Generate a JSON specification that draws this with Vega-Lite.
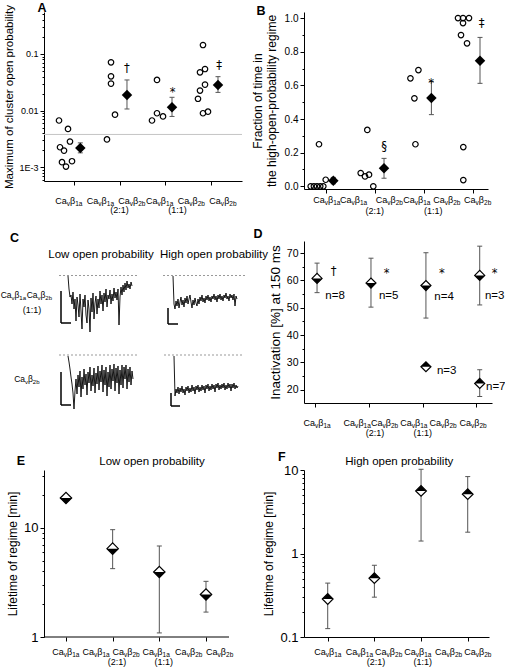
{
"$schema": "https://vega.github.io/schema/vega-lite/v6.json",
"padding": {"left": 0, "top": 2, "right": 0, "bottom": 0},
"autosize": {"type": "pad"},
"config": {
  "font": "Liberation Sans",
  "view": {"stroke": null},
  "axis": {"grid": false, "domainColor": "#000", "tickColor": "#000", "labelColor": "#000", "titleColor": "#000", "labelFont": "Liberation Sans", "titleFont": "Liberation Sans", "titleFontWeight": "normal", "labelFontSize": 10, "titleFontSize": 11.5, "labelPadding": 2, "titlePadding": 4, "labelOverlap": false, "labelFlush": false, "labelBound": false},
  "text": {"color": "#000", "font": "Liberation Sans"}
},
"datasets": {
  "aPts": [{"x":0.68,"y":0.0067},{"x":0.876,"y":0.00475},{"x":0.702,"y":0.00226},{"x":0.789,"y":0.00197},{"x":0.919,"y":0.00285},{"x":0.745,"y":0.00123},{"x":0.832,"y":0.00103},{"x":0.963,"y":0.00128},{"x":1.813,"y":0.0713},{"x":1.813,"y":0.0404},{"x":1.813,"y":0.030},{"x":1.90,"y":0.0085},{"x":1.725,"y":0.0031},{"x":2.815,"y":0.0348},{"x":2.706,"y":0.0067},{"x":2.815,"y":0.009},{"x":2.946,"y":0.0079},{"x":3.817,"y":0.144},{"x":3.752,"y":0.0475},{"x":3.861,"y":0.0543},{"x":3.861,"y":0.0288},{"x":3.752,"y":0.0226},{"x":3.708,"y":0.0162},{"x":3.817,"y":0.009},{"x":3.926,"y":0.0096}],
  "aMean": [{"x":1.144,"y":0.0022,"lo":0.0018,"hi":0.0027},{"x":2.161,"y":0.0189,"lo":0.0107,"hi":0.0348},{"x":3.142,"y":0.0115,"lo":0.0079,"hi":0.0172},{"x":4.144,"y":0.0284,"lo":0.021,"hi":0.0398}],
  "aAnn": [{"x":2.16,"y":0.054,"t":"†"},{"x":3.157,"y":0.0205,"t":"*"},{"x":4.166,"y":0.062,"t":"‡"}],
  "aLab": [{"x":0.891,"y":0.000573,"s":"1a"},{"x":1.58,"y":0.000573,"s":"1a"},{"x":2.264,"y":0.000573,"s":"2b"},{"x":2.87,"y":0.000573,"s":"1a"},{"x":3.56,"y":0.000573,"s":"2b"},{"x":4.25,"y":0.000573,"s":"2b"}],
  "aRat": [{"x":2.0,"y":0.000573,"t":"(2:1)"},{"x":3.26,"y":0.000573,"t":"(1:1)"}],
  "bPts": [{"x":0.694,"y":0},{"x":0.759,"y":0},{"x":0.822,"y":0},{"x":0.888,"y":0},{"x":0.951,"y":0},{"x":0.863,"y":0.25},{"x":1.0,"y":0.039},{"x":1.849,"y":0.335},{"x":1.714,"y":0.079},{"x":1.802,"y":0.059},{"x":1.884,"y":0.069},{"x":1.971,"y":0},{"x":2.729,"y":0.642},{"x":2.892,"y":0.691},{"x":2.81,"y":0.523},{"x":2.831,"y":0.25},{"x":3.7,"y":1.0},{"x":3.802,"y":1.0},{"x":3.924,"y":1.0},{"x":3.802,"y":0.97},{"x":3.761,"y":0.899},{"x":3.884,"y":0.85},{"x":3.808,"y":0.233},{"x":3.808,"y":0.037}],
  "bMean": [{"x":1.155,"y":0.033,"lo":0.015,"hi":0.053},{"x":2.19,"y":0.107,"lo":0.048,"hi":0.166},{"x":3.157,"y":0.525,"lo":0.426,"hi":0.624},{"x":4.149,"y":0.746,"lo":0.612,"hi":0.885}],
  "bAnn": [{"x":2.19,"y":0.232,"t":"§"},{"x":3.151,"y":0.608,"t":"*"},{"x":4.184,"y":0.964,"t":"‡"}],
  "bLab": [{"x":1.02,"y":-0.016,"s":"1a"},{"x":1.565,"y":-0.016,"s":"1a"},{"x":2.296,"y":-0.016,"s":"2b"},{"x":2.857,"y":-0.016,"s":"1a"},{"x":3.469,"y":-0.016,"s":"2b"},{"x":4.098,"y":-0.016,"s":"2b"}],
  "bRat": [{"x":2.002,"y":-0.016,"t":"(2:1)"},{"x":3.193,"y":-0.016,"t":"(1:1)"}],
  "dPts": [{"x":1.032,"y":60.7,"lo":55.5,"hi":66.3,"half":"bottom"},{"x":2.037,"y":59.0,"lo":50.2,"hi":68.1,"half":"bottom"},{"x":3.061,"y":58.1,"lo":46.2,"hi":70.1,"half":"bottom"},{"x":4.063,"y":61.8,"lo":51.0,"hi":72.5,"half":"bottom"},{"x":3.061,"y":28.4,"lo":28.4,"hi":28.4,"half":"top"},{"x":4.063,"y":22.3,"lo":17.5,"hi":27.3,"half":"top"}],
  "dN": [{"x":1.186,"y":54.2,"t":"n=8"},{"x":2.186,"y":54.2,"t":"n=5"},{"x":3.218,"y":53.8,"t":"n=4"},{"x":4.16,"y":54.2,"t":"n=3"},{"x":3.266,"y":27.0,"t":"n=3"},{"x":4.18,"y":20.9,"t":"n=7"}],
  "dAnn": [{"x":1.343,"y":63.2,"t":"†"},{"x":2.33,"y":62.3,"t":"*"},{"x":3.36,"y":62.3,"t":"*"},{"x":4.34,"y":62.3,"t":"*"}],
  "dLab": [{"x":1.03,"y":15.13,"s":"1a"},{"x":1.778,"y":15.13,"s":"1a"},{"x":2.289,"y":15.13,"s":"2b"},{"x":2.833,"y":15.13,"s":"1a"},{"x":3.379,"y":15.13,"s":"2b"},{"x":3.938,"y":15.13,"s":"2b"}],
  "dRat": [{"x":2.112,"y":15.13,"t":"(2:1)"},{"x":3.0,"y":15.13,"t":"(1:1)"}],
  "ePts": [{"x":1,"y":18.7,"lo":18.7,"hi":18.7},{"x":2,"y":6.43,"lo":4.22,"hi":9.59},{"x":3,"y":3.93,"lo":1.09,"hi":6.8},{"x":4,"y":2.45,"lo":1.69,"hi":3.23}],
  "eLab": [{"x":0.993,"y":1,"s":"1a"},{"x":1.643,"y":1,"s":"1a"},{"x":2.286,"y":1,"s":"2b"},{"x":2.929,"y":1,"s":"1a"},{"x":3.628,"y":1,"s":"2b"},{"x":4.29,"y":1,"s":"2b"}],
  "eRat": [{"x":2.093,"y":1,"t":"(2:1)"},{"x":3.093,"y":1,"t":"(1:1)"}],
  "fPts": [{"x":1,"y":0.285,"lo":0.126,"hi":0.442},{"x":2,"y":0.507,"lo":0.30,"hi":0.723},{"x":3,"y":5.62,"lo":1.41,"hi":10.2},{"x":4,"y":5.14,"lo":1.8,"hi":8.34}],
  "fLab": [{"x":1.0,"y":0.1,"s":"1a"},{"x":1.677,"y":0.1,"s":"1a"},{"x":2.303,"y":0.1,"s":"2b"},{"x":2.928,"y":0.1,"s":"1a"},{"x":3.588,"y":0.1,"s":"2b"},{"x":4.214,"y":0.1,"s":"2b"}],
  "fRat": [{"x":2.035,"y":0.1,"t":"(2:1)"},{"x":3.036,"y":0.1,"t":"(1:1)"}],
  "cLab": [{"x":11.5,"v":108,"s":"1a"},{"x":37.5,"v":108,"s":"2b"},{"x":25,"v":24,"s":"2b"}],
  "cTr": [
{"k":"TL","x":66,"v":127},{"k":"TL","x":67,"v":114},{"k":"TL","x":68,"v":106},{"k":"TL","x":69,"v":108},{"k":"TL","x":70,"v":99},{"k":"TL","x":71,"v":111},{"k":"TL","x":72,"v":94},{"k":"TL","x":73,"v":104},{"k":"TL","x":74,"v":82},{"k":"TL","x":75,"v":106},{"k":"TL","x":76,"v":98},{"k":"TL","x":77,"v":86},{"k":"TL","x":78,"v":109},{"k":"TL","x":79,"v":92},{"k":"TL","x":80,"v":74},{"k":"TL","x":81,"v":104},{"k":"TL","x":82,"v":96},{"k":"TL","x":83,"v":108},{"k":"TL","x":84,"v":88},{"k":"TL","x":85,"v":80},{"k":"TL","x":86,"v":103},{"k":"TL","x":87,"v":94},{"k":"TL","x":88,"v":71},{"k":"TL","x":89,"v":105},{"k":"TL","x":90,"v":91},{"k":"TL","x":91,"v":110},{"k":"TL","x":92,"v":84},{"k":"TL","x":93,"v":100},{"k":"TL","x":94,"v":107},{"k":"TL","x":95,"v":89},{"k":"TL","x":96,"v":104},{"k":"TL","x":97,"v":95},{"k":"TL","x":98,"v":112},{"k":"TL","x":99,"v":99},{"k":"TL","x":100,"v":108},{"k":"TL","x":101,"v":92},{"k":"TL","x":102,"v":110},{"k":"TL","x":103,"v":101},{"k":"TL","x":104,"v":114},{"k":"TL","x":105,"v":96},{"k":"TL","x":106,"v":108},{"k":"TL","x":107,"v":104},{"k":"TL","x":108,"v":113},{"k":"TL","x":109,"v":99},{"k":"TL","x":110,"v":109},{"k":"TL","x":111,"v":102},{"k":"TL","x":112,"v":115},{"k":"TL","x":113,"v":105},{"k":"TL","x":114,"v":111},{"k":"TL","x":115,"v":103},{"k":"TL","x":116,"v":114},{"k":"TL","x":117,"v":78},{"k":"TL","x":118,"v":106},{"k":"TL","x":119,"v":116},{"k":"TL","x":120,"v":108},{"k":"TL","x":121,"v":118},{"k":"TL","x":122,"v":111},{"k":"TL","x":123,"v":120},{"k":"TL","x":124,"v":113},{"k":"TL","x":125,"v":122},{"k":"TL","x":126,"v":115},{"k":"TL","x":127,"v":119},{"k":"TL","x":128,"v":114},{"k":"TL","x":129,"v":121},{"k":"TL","x":130,"v":117},
{"k":"TR","x":171,"v":127},{"k":"TR","x":172,"v":99},{"k":"TR","x":173,"v":94},{"k":"TR","x":174,"v":102},{"k":"TR","x":175,"v":97},{"k":"TR","x":176,"v":104},{"k":"TR","x":177,"v":95},{"k":"TR","x":178,"v":101},{"k":"TR","x":179,"v":106},{"k":"TR","x":180,"v":98},{"k":"TR","x":181,"v":103},{"k":"TR","x":182,"v":96},{"k":"TR","x":183,"v":105},{"k":"TR","x":184,"v":100},{"k":"TR","x":185,"v":107},{"k":"TR","x":186,"v":99},{"k":"TR","x":187,"v":104},{"k":"TR","x":188,"v":108},{"k":"TR","x":189,"v":101},{"k":"TR","x":190,"v":95},{"k":"TR","x":191,"v":103},{"k":"TR","x":192,"v":98},{"k":"TR","x":193,"v":105},{"k":"TR","x":194,"v":100},{"k":"TR","x":195,"v":97},{"k":"TR","x":196,"v":104},{"k":"TR","x":197,"v":99},{"k":"TR","x":198,"v":106},{"k":"TR","x":199,"v":102},{"k":"TR","x":200,"v":108},{"k":"TR","x":201,"v":101},{"k":"TR","x":202,"v":105},{"k":"TR","x":203,"v":100},{"k":"TR","x":204,"v":107},{"k":"TR","x":205,"v":103},{"k":"TR","x":206,"v":108},{"k":"TR","x":207,"v":102},{"k":"TR","x":208,"v":106},{"k":"TR","x":209,"v":101},{"k":"TR","x":210,"v":107},{"k":"TR","x":211,"v":104},{"k":"TR","x":212,"v":109},{"k":"TR","x":213,"v":103},{"k":"TR","x":214,"v":107},{"k":"TR","x":215,"v":101},{"k":"TR","x":216,"v":108},{"k":"TR","x":217,"v":104},{"k":"TR","x":218,"v":109},{"k":"TR","x":219,"v":103},{"k":"TR","x":220,"v":107},{"k":"TR","x":221,"v":102},{"k":"TR","x":222,"v":108},{"k":"TR","x":223,"v":105},{"k":"TR","x":224,"v":110},{"k":"TR","x":225,"v":104},{"k":"TR","x":226,"v":107},{"k":"TR","x":227,"v":102},{"k":"TR","x":228,"v":109},{"k":"TR","x":229,"v":105},{"k":"TR","x":230,"v":108},{"k":"TR","x":231,"v":103},{"k":"TR","x":232,"v":109},{"k":"TR","x":233,"v":97},{"k":"TR","x":234,"v":107},{"k":"TR","x":235,"v":104},
{"k":"BL","x":66,"v":47},{"k":"BL","x":67,"v":41},{"k":"BL","x":68,"v":34},{"k":"BL","x":69,"v":26},{"k":"BL","x":70,"v":19},{"k":"BL","x":71,"v":10},{"k":"BL","x":72,"v":-6},{"k":"BL","x":73,"v":12},{"k":"BL","x":74,"v":24},{"k":"BL","x":75,"v":9},{"k":"BL","x":76,"v":28},{"k":"BL","x":77,"v":16},{"k":"BL","x":78,"v":32},{"k":"BL","x":79,"v":6},{"k":"BL","x":80,"v":26},{"k":"BL","x":81,"v":14},{"k":"BL","x":82,"v":34},{"k":"BL","x":83,"v":18},{"k":"BL","x":84,"v":29},{"k":"BL","x":85,"v":8},{"k":"BL","x":86,"v":31},{"k":"BL","x":87,"v":20},{"k":"BL","x":88,"v":36},{"k":"BL","x":89,"v":12},{"k":"BL","x":90,"v":28},{"k":"BL","x":91,"v":17},{"k":"BL","x":92,"v":35},{"k":"BL","x":93,"v":10},{"k":"BL","x":94,"v":30},{"k":"BL","x":95,"v":19},{"k":"BL","x":96,"v":37},{"k":"BL","x":97,"v":13},{"k":"BL","x":98,"v":32},{"k":"BL","x":99,"v":21},{"k":"BL","x":100,"v":38},{"k":"BL","x":101,"v":11},{"k":"BL","x":102,"v":33},{"k":"BL","x":103,"v":18},{"k":"BL","x":104,"v":36},{"k":"BL","x":105,"v":7},{"k":"BL","x":106,"v":31},{"k":"BL","x":107,"v":16},{"k":"BL","x":108,"v":38},{"k":"BL","x":109,"v":14},{"k":"BL","x":110,"v":34},{"k":"BL","x":111,"v":22},{"k":"BL","x":112,"v":39},{"k":"BL","x":113,"v":12},{"k":"BL","x":114,"v":35},{"k":"BL","x":115,"v":20},{"k":"BL","x":116,"v":37},{"k":"BL","x":117,"v":9},{"k":"BL","x":118,"v":33},{"k":"BL","x":119,"v":18},{"k":"BL","x":120,"v":38},{"k":"BL","x":121,"v":15},{"k":"BL","x":122,"v":36},{"k":"BL","x":123,"v":24},{"k":"BL","x":124,"v":38},{"k":"BL","x":125,"v":14},{"k":"BL","x":126,"v":34},{"k":"BL","x":127,"v":21},{"k":"BL","x":128,"v":36},{"k":"BL","x":129,"v":18},{"k":"BL","x":130,"v":32},{"k":"BL","x":131,"v":24},
{"k":"BR","x":172,"v":47},{"k":"BR","x":173,"v":7},{"k":"BR","x":174,"v":14},{"k":"BR","x":175,"v":10},{"k":"BR","x":176,"v":16},{"k":"BR","x":177,"v":9},{"k":"BR","x":178,"v":15},{"k":"BR","x":179,"v":11},{"k":"BR","x":180,"v":17},{"k":"BR","x":181,"v":10},{"k":"BR","x":182,"v":14},{"k":"BR","x":183,"v":8},{"k":"BR","x":184,"v":16},{"k":"BR","x":185,"v":12},{"k":"BR","x":186,"v":17},{"k":"BR","x":187,"v":10},{"k":"BR","x":188,"v":15},{"k":"BR","x":189,"v":11},{"k":"BR","x":190,"v":18},{"k":"BR","x":191,"v":12},{"k":"BR","x":192,"v":16},{"k":"BR","x":193,"v":9},{"k":"BR","x":194,"v":17},{"k":"BR","x":195,"v":13},{"k":"BR","x":196,"v":18},{"k":"BR","x":197,"v":11},{"k":"BR","x":198,"v":16},{"k":"BR","x":199,"v":12},{"k":"BR","x":200,"v":18},{"k":"BR","x":201,"v":13},{"k":"BR","x":202,"v":17},{"k":"BR","x":203,"v":10},{"k":"BR","x":204,"v":18},{"k":"BR","x":205,"v":14},{"k":"BR","x":206,"v":19},{"k":"BR","x":207,"v":12},{"k":"BR","x":208,"v":17},{"k":"BR","x":209,"v":13},{"k":"BR","x":210,"v":19},{"k":"BR","x":211,"v":14},{"k":"BR","x":212,"v":18},{"k":"BR","x":213,"v":11},{"k":"BR","x":214,"v":19},{"k":"BR","x":215,"v":15},{"k":"BR","x":216,"v":20},{"k":"BR","x":217,"v":13},{"k":"BR","x":218,"v":18},{"k":"BR","x":219,"v":14},{"k":"BR","x":220,"v":19},{"k":"BR","x":221,"v":15},{"k":"BR","x":222,"v":20},{"k":"BR","x":223,"v":13},{"k":"BR","x":224,"v":18},{"k":"BR","x":225,"v":14},{"k":"BR","x":226,"v":20},{"k":"BR","x":227,"v":15},{"k":"BR","x":228,"v":19},{"k":"BR","x":229,"v":12},{"k":"BR","x":230,"v":19},{"k":"BR","x":231,"v":15},{"k":"BR","x":232,"v":20},{"k":"BR","x":233,"v":14},{"k":"BR","x":234,"v":18},{"k":"BR","x":235,"v":15},{"k":"BR","x":236,"v":17}
  ]
},
"bounds": "flush",
"align": "none",
"columns": 2,
"spacing": {"row": 52, "column": 59},
"concat": [
   {"width": 198, "height": 169,
    "encoding": {
      "x": {"field": "x", "type": "quantitative", "scale": {"domain": [0.353, 4.667]}, "axis": {"values": [1,2,3,4], "labels": false, "title": null, "tickSize": 4}},
      "y": {"field": "y", "type": "quantitative", "scale": {"type": "log", "domain": [0.000573, 0.551]}, "axis": {"title": "Maximum of cluster open probability", "labelFontSize": 9, "values": [0.0006,0.0007,0.0008,0.0009,0.001,0.002,0.003,0.004,0.005,0.006,0.007,0.008,0.009,0.01,0.02,0.03,0.04,0.05,0.06,0.07,0.08,0.09,0.1,0.2,0.3,0.4,0.5], "labelExpr": "datum.value==0.001 ? '1E-3' : datum.value==0.01 ? '0.01' : datum.value==0.1 ? '0.1' : ''", "tickSize": {"condition": {"test": "datum.value==0.001||datum.value==0.01||datum.value==0.1", "value": 4}, "value": 2}}}
    },
    "layer": [
     {"data": {"values": [{"x": 0.353, "x2": 4.667, "y": 0.0038}]}, "mark": {"type": "rule", "color": "#c4c4c4", "strokeWidth": 1}, "encoding": {"x2": {"field": "x2"}}},
     {"data": {"name": "aPts"}, "mark": {"type": "point", "shape": "circle", "filled": false, "color": "#000", "strokeWidth": 1.2, "size": 30, "opacity": 1}},
     {"data": {"name": "aMean"}, "mark": {"type": "rule", "color": "#555"}, "encoding": {"y": {"field": "lo", "type": "quantitative"}, "y2": {"field": "hi"}}},
     {"data": {"name": "aMean"}, "mark": {"type": "tick", "orient": "horizontal", "size": 5, "thickness": 1, "color": "#555", "opacity": 1}, "encoding": {"y": {"field": "hi", "type": "quantitative"}}},
     {"data": {"name": "aMean"}, "mark": {"type": "tick", "orient": "horizontal", "size": 5, "thickness": 1, "color": "#555", "opacity": 1}, "encoding": {"y": {"field": "lo", "type": "quantitative"}}},
     {"data": {"name": "aMean"}, "mark": {"type": "point", "shape": "diamond", "filled": true, "color": "#000", "size": 110, "opacity": 1}},
     {"data": {"name": "aAnn"}, "mark": {"type": "text", "font": "DejaVu Sans", "fontSize": 11.5, "baseline": "middle", "align": "center", "fill": "#000"}, "encoding": {"text": {"field": "t"}}},
     {"data": {"values": [{"x": 0.309, "y": 0.648, "t": "A"}]}, "mark": {"type": "text", "fontSize": 12.5, "fontWeight": "bold", "baseline": "middle", "align": "center"}, "encoding": {"text": {"field": "t"}}},
     {"data": {"name": "aLab"}, "mark": {"type": "text", "text": "Ca", "align": "right", "baseline": "middle", "fontSize": 9, "dx": -2, "dy": 19.5}},
     {"data": {"name": "aLab"}, "mark": {"type": "text", "text": "v", "align": "left", "baseline": "middle", "fontSize": 6.5, "dx": -2, "dy": 22.5}},
     {"data": {"name": "aLab"}, "mark": {"type": "text", "text": "β", "align": "left", "baseline": "middle", "fontSize": 9, "dx": 1.3, "dy": 19.5}},
     {"data": {"name": "aLab"}, "mark": {"type": "text", "align": "left", "baseline": "middle", "fontSize": 6.5, "dx": 6.5, "dy": 22.5}, "encoding": {"text": {"field": "s"}}},
     {"data": {"name": "aRat"}, "mark": {"type": "text", "align": "center", "baseline": "middle", "fontSize": 9, "dy": 29}, "encoding": {"text": {"field": "t"}}}
    ]
   },
   {"width": 184, "height": 177,
    "encoding": {
      "x": {"field": "x", "type": "quantitative", "scale": {"domain": [0.557, 4.312]}, "axis": {"values": [1,2,3,4], "labels": false, "title": null, "tickSize": 4}},
      "y": {"field": "y", "type": "quantitative", "scale": {"domain": [-0.016, 1.036]}, "axis": {"title": ["Fraction of  time in", "the high-open-probability regime"], "titleFontSize": 12, "titleLineHeight": 14, "titlePadding": 6, "values": [0,0.1,0.2,0.3,0.4,0.5,0.6,0.7,0.8,0.9,1.0], "labelExpr": "round(datum.value*10)%2==0 ? format(datum.value,'.1f') : ''", "tickSize": {"condition": {"test": "round(datum.value*10)%2==0", "value": 4}, "value": 2}}}
    },
    "layer": [
     {"data": {"name": "bPts"}, "mark": {"type": "point", "shape": "circle", "filled": false, "color": "#000", "strokeWidth": 1.2, "size": 30, "opacity": 1}},
     {"data": {"name": "bMean"}, "mark": {"type": "rule", "color": "#555"}, "encoding": {"y": {"field": "lo", "type": "quantitative"}, "y2": {"field": "hi"}}},
     {"data": {"name": "bMean"}, "mark": {"type": "tick", "orient": "horizontal", "size": 5, "thickness": 1, "color": "#555", "opacity": 1}, "encoding": {"y": {"field": "hi", "type": "quantitative"}}},
     {"data": {"name": "bMean"}, "mark": {"type": "tick", "orient": "horizontal", "size": 5, "thickness": 1, "color": "#555", "opacity": 1}, "encoding": {"y": {"field": "lo", "type": "quantitative"}}},
     {"data": {"name": "bMean"}, "mark": {"type": "point", "shape": "diamond", "filled": true, "color": "#000", "size": 110, "opacity": 1}},
     {"data": {"name": "bAnn"}, "mark": {"type": "text", "font": "DejaVu Sans", "fontSize": 11.5, "baseline": "middle", "align": "center", "fill": "#000"}, "encoding": {"text": {"field": "t"}}},
     {"data": {"values": [{"x": -0.32, "y": 1.039, "t": "B"}]}, "mark": {"type": "text", "fontSize": 12.5, "fontWeight": "bold", "baseline": "middle", "align": "center"}, "encoding": {"text": {"field": "t"}}},
     {"data": {"name": "bLab"}, "mark": {"type": "text", "text": "Ca", "align": "right", "baseline": "middle", "fontSize": 9, "dx": -2, "dy": 11}},
     {"data": {"name": "bLab"}, "mark": {"type": "text", "text": "v", "align": "left", "baseline": "middle", "fontSize": 6.5, "dx": -2, "dy": 14}},
     {"data": {"name": "bLab"}, "mark": {"type": "text", "text": "β", "align": "left", "baseline": "middle", "fontSize": 9, "dx": 1.3, "dy": 11}},
     {"data": {"name": "bLab"}, "mark": {"type": "text", "align": "left", "baseline": "middle", "fontSize": 6.5, "dx": 6.5, "dy": 14}, "encoding": {"text": {"field": "s"}}},
     {"data": {"name": "bRat"}, "mark": {"type": "text", "align": "center", "baseline": "middle", "fontSize": 9, "dy": 22}, "encoding": {"text": {"field": "t"}}}
    ]
   },
   {"width": 201, "height": 177,
    "encoding": {
      "x": {"field": "x", "type": "quantitative", "scale": {"domain": [42, 243]}, "axis": null},
      "y": {"field": "v", "type": "quantitative", "scale": {"domain": [-15, 162]}, "axis": null}
    },
    "layer": [
     {"data": {"values": [{"x": 57, "x2": 136, "v": 127.5}, {"x": 161, "x2": 244, "v": 127.5}, {"x": 57, "x2": 136, "v": 48}, {"x": 162, "x2": 242, "v": 48}]}, "mark": {"type": "rule", "color": "#999", "strokeDash": [2, 2], "strokeWidth": 1}, "encoding": {"x2": {"field": "x2"}}},
     {"data": {"name": "cTr"}, "mark": {"type": "line", "color": "#000", "strokeWidth": 0.9}, "encoding": {"detail": {"field": "k", "type": "nominal"}}},
     {"data": {"values": [{"x": 59, "x2": 59, "v": 112, "v2": 80}, {"x": 59, "x2": 69, "v": 80, "v2": 80}, {"x": 166, "x2": 166, "v": 95, "v2": 79}, {"x": 166, "x2": 176, "v": 79, "v2": 79}, {"x": 59, "x2": 59, "v": 31, "v2": -2}, {"x": 59, "x2": 69, "v": -2, "v2": -2}, {"x": 169, "x2": 169, "v": 10, "v2": -3}, {"x": 169, "x2": 178, "v": -3, "v2": -3}]}, "mark": {"type": "rule", "color": "#000", "strokeWidth": 1.5}, "encoding": {"x2": {"field": "x2"}, "y2": {"field": "v2"}}},
     {"data": {"values": [{"x": 99, "v": 148, "t": "Low open probability"}, {"x": 212, "v": 148, "t": "High open probability"}]}, "mark": {"type": "text", "fontSize": 11.5, "baseline": "middle", "align": "center"}, "encoding": {"text": {"field": "t"}}},
     {"data": {"values": [{"x": 12.5, "v": 165, "t": "C"}]}, "mark": {"type": "text", "fontSize": 12.5, "fontWeight": "bold", "baseline": "middle", "align": "center"}, "encoding": {"text": {"field": "t"}}},
     {"data": {"name": "cLab"}, "mark": {"type": "text", "text": "Ca", "align": "right", "baseline": "middle", "fontSize": 8.5, "dx": -2}},
     {"data": {"name": "cLab"}, "mark": {"type": "text", "text": "v", "align": "left", "baseline": "middle", "fontSize": 6, "dx": -2, "dy": 3}},
     {"data": {"name": "cLab"}, "mark": {"type": "text", "text": "β", "align": "left", "baseline": "middle", "fontSize": 8.5, "dx": 1, "dy": 0}},
     {"data": {"name": "cLab"}, "mark": {"type": "text", "align": "left", "baseline": "middle", "fontSize": 6, "dx": 5.8, "dy": 3}, "encoding": {"text": {"field": "s"}}},
     {"data": {"values": [{"x": 30, "v": 93, "t": "(1:1)"}]}, "mark": {"type": "text", "align": "center", "baseline": "middle", "fontSize": 9}, "encoding": {"text": {"field": "t"}}}
    ]
   },
   {"width": 188, "height": 162,
    "encoding": {
      "x": {"field": "x", "type": "quantitative", "scale": {"domain": [0.789, 4.292]}, "axis": {"values": [1,2,3,4], "labels": false, "title": null, "tickSize": 4}},
      "y": {"field": "y", "type": "quantitative", "scale": {"domain": [15.13, 74.39]}, "axis": {"title": "Inactivation [%] at 150 ms", "titleFontSize": 13.5, "labelFontSize": 10.5, "values": [20,25,30,35,40,45,50,55,60,65,70], "labelExpr": "datum.value%10==0 ? datum.value+'' : ''", "tickSize": {"condition": {"test": "datum.value%10==0", "value": 4}, "value": 2}}}
    },
    "layer": [
     {"data": {"name": "dPts"}, "mark": {"type": "rule", "color": "#555"}, "encoding": {"y": {"field": "lo", "type": "quantitative"}, "y2": {"field": "hi"}}},
     {"data": {"name": "dPts"}, "mark": {"type": "tick", "orient": "horizontal", "size": 5, "thickness": 1, "color": "#555", "opacity": 1}, "encoding": {"y": {"field": "hi", "type": "quantitative"}}},
     {"data": {"name": "dPts"}, "mark": {"type": "tick", "orient": "horizontal", "size": 5, "thickness": 1, "color": "#555", "opacity": 1}, "encoding": {"y": {"field": "lo", "type": "quantitative"}}},
     {"data": {"name": "dPts"}, "mark": {"type": "point", "shape": "diamond", "filled": true, "fill": "#fff", "stroke": "#000", "strokeWidth": 1.2, "size": 100, "opacity": 1}},
     {"data": {"name": "dPts"}, "mark": {"type": "point", "filled": true, "color": "#000", "size": 100, "opacity": 1}, "encoding": {"shape": {"field": "half", "type": "nominal", "scale": {"domain": ["bottom", "top"], "range": ["M-1,0L1,0L0,1Z", "M-1,0L1,0L0,-1Z"]}, "legend": null}}},
     {"data": {"name": "dN"}, "mark": {"type": "text", "fontSize": 11.5, "baseline": "middle", "align": "left"}, "encoding": {"text": {"field": "t"}}},
     {"data": {"name": "dAnn"}, "mark": {"type": "text", "font": "DejaVu Sans", "fontSize": 11.5, "baseline": "middle", "align": "center", "fill": "#000"}, "encoding": {"text": {"field": "t"}}},
     {"data": {"values": [{"x": -0.068, "y": 77.0, "t": "D"}]}, "mark": {"type": "text", "fontSize": 12.5, "fontWeight": "bold", "baseline": "middle", "align": "center"}, "encoding": {"text": {"field": "t"}}},
     {"data": {"name": "dLab"}, "mark": {"type": "text", "text": "Ca", "align": "right", "baseline": "middle", "fontSize": 9, "dx": -2, "dy": 20}},
     {"data": {"name": "dLab"}, "mark": {"type": "text", "text": "v", "align": "left", "baseline": "middle", "fontSize": 6.5, "dx": -2, "dy": 23}},
     {"data": {"name": "dLab"}, "mark": {"type": "text", "text": "β", "align": "left", "baseline": "middle", "fontSize": 9, "dx": 1.3, "dy": 20}},
     {"data": {"name": "dLab"}, "mark": {"type": "text", "align": "left", "baseline": "middle", "fontSize": 6.5, "dx": 6.5, "dy": 23}, "encoding": {"text": {"field": "s"}}},
     {"data": {"name": "dRat"}, "mark": {"type": "text", "align": "center", "baseline": "middle", "fontSize": 9, "dy": 30}, "encoding": {"text": {"field": "t"}}}
    ]
   },
   {"width": 197, "height": 167,
    "encoding": {
      "x": {"field": "x", "type": "quantitative", "scale": {"domain": [0.529, 4.75]}, "axis": {"values": [1,2,3,4], "labels": false, "title": null, "tickSize": 4, "domain": false}},
      "y": {"field": "y", "type": "quantitative", "scale": {"type": "log", "domain": [1, 33.7]}, "axis": {"title": "Lifetime of regime [min]", "titleFontSize": 12, "labelFontSize": 13, "values": [1,2,3,4,5,6,7,8,9,10,20,30], "labelExpr": "datum.value==1||datum.value==10 ? datum.value+'' : ''", "tickSize": {"condition": {"test": "datum.value==1||datum.value==10", "value": 4}, "value": 2}}}
    },
    "layer": [
     {"data": {"values": [{"x": 0.529, "x2": 4.493, "y": 1}]}, "mark": {"type": "rule", "color": "#000", "strokeWidth": 1}, "encoding": {"x2": {"field": "x2"}}},
     {"data": {"name": "ePts"}, "mark": {"type": "rule", "color": "#555"}, "encoding": {"y": {"field": "lo", "type": "quantitative"}, "y2": {"field": "hi"}}},
     {"data": {"name": "ePts"}, "mark": {"type": "tick", "orient": "horizontal", "size": 5, "thickness": 1, "color": "#555", "opacity": 1}, "encoding": {"y": {"field": "hi", "type": "quantitative"}}},
     {"data": {"name": "ePts"}, "mark": {"type": "tick", "orient": "horizontal", "size": 5, "thickness": 1, "color": "#555", "opacity": 1}, "encoding": {"y": {"field": "lo", "type": "quantitative"}}},
     {"data": {"name": "ePts"}, "mark": {"type": "point", "shape": "diamond", "filled": true, "fill": "#fff", "stroke": "#000", "strokeWidth": 1.2, "size": 130, "opacity": 1}},
     {"data": {"name": "ePts"}, "mark": {"type": "point", "shape": "M-1,0L1,0L0,1Z", "filled": true, "color": "#000", "size": 130, "opacity": 1}},
     {"data": {"values": [{"x": 0.036, "y": 40.8, "t": "E"}]}, "mark": {"type": "text", "fontSize": 12.5, "fontWeight": "bold", "baseline": "middle", "align": "center"}, "encoding": {"text": {"field": "t"}}},
     {"data": {"values": [{"x": 2.843, "y": 39.9, "t": "Low open probability"}]}, "mark": {"type": "text", "fontSize": 11.5, "baseline": "middle", "align": "center"}, "encoding": {"text": {"field": "t"}}},
     {"data": {"name": "eLab"}, "mark": {"type": "text", "text": "Ca", "align": "right", "baseline": "middle", "fontSize": 9, "dx": -2, "dy": 15}},
     {"data": {"name": "eLab"}, "mark": {"type": "text", "text": "v", "align": "left", "baseline": "middle", "fontSize": 6.5, "dx": -2, "dy": 18}},
     {"data": {"name": "eLab"}, "mark": {"type": "text", "text": "β", "align": "left", "baseline": "middle", "fontSize": 9, "dx": 1.3, "dy": 15}},
     {"data": {"name": "eLab"}, "mark": {"type": "text", "align": "left", "baseline": "middle", "fontSize": 6.5, "dx": 6.5, "dy": 18}, "encoding": {"text": {"field": "s"}}},
     {"data": {"name": "eRat"}, "mark": {"type": "text", "align": "center", "baseline": "middle", "fontSize": 9, "dy": 25}, "encoding": {"text": {"field": "t"}}}
    ]
   },
   {"width": 185, "height": 167,
    "encoding": {
      "x": {"field": "x", "type": "quantitative", "scale": {"domain": [0.492, 4.456]}, "axis": {"values": [1,2,3,4], "labels": false, "title": null, "tickSize": 4}},
      "y": {"field": "y", "type": "quantitative", "scale": {"type": "log", "domain": [0.1, 10]}, "axis": {"title": "Lifetime of regime [min]", "titleFontSize": 12, "labelFontSize": 13, "values": [0.1,0.2,0.3,0.4,0.5,0.6,0.7,0.8,0.9,1,2,3,4,5,6,7,8,9,10], "labelExpr": "datum.value==0.1||datum.value==1||datum.value==10 ? datum.value+'' : ''", "tickSize": {"condition": {"test": "datum.value==0.1||datum.value==1||datum.value==10", "value": 4}, "value": 2}}}
    },
    "layer": [
     {"data": {"name": "fPts"}, "mark": {"type": "rule", "color": "#555"}, "encoding": {"y": {"field": "lo", "type": "quantitative"}, "y2": {"field": "hi"}}},
     {"data": {"name": "fPts"}, "mark": {"type": "tick", "orient": "horizontal", "size": 5, "thickness": 1, "color": "#555", "opacity": 1}, "encoding": {"y": {"field": "hi", "type": "quantitative"}}},
     {"data": {"name": "fPts"}, "mark": {"type": "tick", "orient": "horizontal", "size": 5, "thickness": 1, "color": "#555", "opacity": 1}, "encoding": {"y": {"field": "lo", "type": "quantitative"}}},
     {"data": {"name": "fPts"}, "mark": {"type": "point", "shape": "diamond", "filled": true, "fill": "#fff", "stroke": "#000", "strokeWidth": 1.2, "size": 115, "opacity": 1}},
     {"data": {"name": "fPts"}, "mark": {"type": "point", "shape": "M-1,0L1,0L0,-1Z", "filled": true, "color": "#000", "size": 115, "opacity": 1}},
     {"data": {"values": [{"x": 0.014, "y": 14.3, "t": "F"}]}, "mark": {"type": "text", "fontSize": 12.5, "fontWeight": "bold", "baseline": "middle", "align": "center"}, "encoding": {"text": {"field": "t"}}},
     {"data": {"values": [{"x": 2.534, "y": 12.5, "t": "High open probability"}]}, "mark": {"type": "text", "fontSize": 11.5, "baseline": "middle", "align": "center"}, "encoding": {"text": {"field": "t"}}},
     {"data": {"name": "fLab"}, "mark": {"type": "text", "text": "Ca", "align": "right", "baseline": "middle", "fontSize": 9, "dx": -2, "dy": 15}},
     {"data": {"name": "fLab"}, "mark": {"type": "text", "text": "v", "align": "left", "baseline": "middle", "fontSize": 6.5, "dx": -2, "dy": 18}},
     {"data": {"name": "fLab"}, "mark": {"type": "text", "text": "β", "align": "left", "baseline": "middle", "fontSize": 9, "dx": 1.3, "dy": 15}},
     {"data": {"name": "fLab"}, "mark": {"type": "text", "align": "left", "baseline": "middle", "fontSize": 6.5, "dx": 6.5, "dy": 18}, "encoding": {"text": {"field": "s"}}},
     {"data": {"name": "fRat"}, "mark": {"type": "text", "align": "center", "baseline": "middle", "fontSize": 9, "dy": 25}, "encoding": {"text": {"field": "t"}}}
    ]
   }
]
}
